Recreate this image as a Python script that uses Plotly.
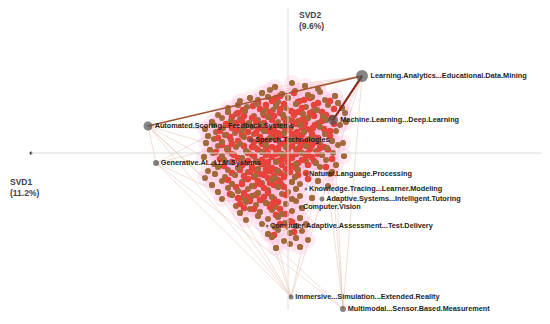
import numpy as np
import plotly.graph_objects as go

################
##### DATA #####
################

# topic nodes (scores x100)
topic_names = ["Learning.Analytics...Educational.Data.Mining",
               "Machine.Learning...Deep.Learning",
               "Automated.Scoring...Feedback.Systems",
               "Generative.AI...LLM.Systems",
               "Speech.Technologies",
               "Natural.Language.Processing",
               "Knowledge.Tracing...Learner.Modeling",
               "Adaptive.Systems...Intelligent.Tutoring",
               "Computer.Vision",
               "Computer.Adaptive.Assessment...Test.Delivery",
               "Immersive...Simulation...Extended.Reality",
               "Multimodal...Sensor.Based.Measurement"]
topic_svd1 = [74, 45, -140, -132, -37, 18, 18, 34, 12, -21, 3, 55]
topic_svd2 = [77, 33, 27, -10, 13, -21, -36, -46, -54, -73, -144, -156]
topic_weight = [12, 10, 9, 6, 5, 3, 3, 5, 3, 3, 5, 6]

# documents (scores x100)
doc_brown = [
    (-13, 66), (4, 70), (17, 67), (30, 64),
    (-26, 60), (-18, 63), (-6, 59), (7, 62), (20, 58), (32, 61), (47, 57),
    (-48, 52), (-38, 55), (-30, 53), (-20, 56), (-10, 51), (0, 55), (12, 52), (24, 56), (37, 53), (50, 50),
    (-60, 45), (-50, 48), (-41, 46), (-32, 49), (-22, 44), (-12, 47), (-2, 45), (8, 49), (18, 46), (29, 43), (40, 48), (54, 45),
    (-70, 38), (-60, 41), (-52, 39), (-43, 42), (-34, 37), (-25, 40), (-15, 43), (-5, 38), (5, 41), (15, 39), (25, 42), (35, 37), (57, 40),
    (-76, 31), (-66, 35), (-57, 32), (-48, 34), (-39, 30), (-30, 33), (-20, 36), (-10, 31), (0, 34), (10, 32), (20, 35), (30, 30), (38, 33), (58, 31),
    (-83, 24), (-74, 28), (-65, 25), (-56, 27), (-46, 23), (-36, 26), (-26, 29), (-17, 24), (-7, 27), (3, 25), (12, 28), (22, 23), (32, 26), (52, 28),
    (-80, 17), (-72, 21), (-63, 18), (-53, 20), (-44, 16), (-34, 19), (-24, 22), (-14, 17), (-4, 20), (6, 18), (16, 21), (26, 16), (37, 19), (48, 22),
    (-82, 10), (-74, 14), (-66, 11), (-57, 13), (-48, 9), (-28, 12), (-18, 15), (-8, 10), (2, 13), (12, 11), (22, 14), (32, 9), (44, 12), (55, 10),
    (-78, 3), (-70, 7), (-61, 4), (-52, 6), (-42, 2), (-32, 5), (-22, 8), (-12, 3), (-2, 6), (8, 4), (18, 7), (28, 2), (39, 5), (50, 8),
    (-84, -4), (-75, 0), (-66, -3), (-56, -1), (-46, -5), (-36, -2), (-26, 1), (-16, -4), (-6, -1), (4, -3), (14, 0), (24, -5), (34, -2), (45, 0), (56, -3),
    (-74, -11), (-64, -7), (-42, -10), (-32, -8), (-22, -12), (-12, -9), (-2, -6), (8, -11), (18, -8), (28, -10), (38, -7), (48, -12),
    (-80, -18), (-70, -14), (-60, -17), (-50, -15), (-40, -19), (-30, -16), (-20, -13), (-10, -18), (0, -15), (10, -17), (32, -14), (44, -19),
    (-83, -25), (-73, -21), (-63, -24), (-53, -22), (-43, -26), (-33, -23), (-23, -20), (-13, -25), (-3, -22), (7, -24), (42, -21),
    (-76, -32), (-66, -28), (-56, -31), (-46, -29), (-36, -33), (-26, -30), (-16, -27), (-6, -32), (4, -29), (12, -31), (30, -28), (40, -33),
    (-70, -39), (-60, -35), (-50, -38), (-40, -36), (-30, -40), (-20, -37), (-10, -34), (0, -39), (8, -36),
    (-66, -46), (-56, -42), (-46, -45), (-36, -43), (-26, -47), (-16, -44), (-6, -41), (4, -46), (12, -43), (24, -45),
    (-52, -53), (-42, -49), (-32, -52), (-22, -50), (-12, -54), (-2, -51), (8, -48),
    (-48, -60), (-38, -56), (-28, -59), (-16, -57), (-6, -61), (4, -58), (14, -55),
    (-42, -67), (-30, -63), (-20, -66), (-10, -64), (2, -68), (12, -65),
    (-26, -71), (-13, -74), (-3, -70), (8, -73), (18, -71),
    (-20, -81), (-10, -77), (2, -80), (14, -78),
    (-16, -84), (-4, -88), (8, -85), (20, -87),
    (-12, -95), (2, -91), (12, -94),
]
doc_red = [
    (-8, 57), (6, 60), (22, 55),
    (-30, 50), (-16, 52), (-4, 49), (10, 51), (26, 48), (42, 52),
    (-45, 43), (-28, 44), (-18, 41), (-8, 44), (3, 42), (14, 45), (34, 41), (46, 44),
    (-56, 36), (-44, 37), (-36, 35), (-14, 37), (-4, 35), (6, 38), (18, 34), (26, 37), (44, 35),
    (-62, 29), (-52, 30), (-42, 28), (-24, 30), (-12, 28), (-2, 31), (8, 29), (17, 30), (27, 28), (46, 29),
    (-68, 22), (-50, 23), (-40, 21), (-30, 24), (-20, 22), (-10, 20), (0, 23), (9, 21), (19, 24), (42, 22),
    (-70, 15), (-58, 16), (-38, 14), (-28, 16), (-20, 13), (-10, 16), (0, 14), (10, 16), (20, 13), (30, 15),
    (-66, 8), (-56, 9), (-44, 7), (-26, 9), (-16, 6), (-6, 9), (4, 7), (14, 10), (24, 8), (36, 6),
    (-72, 1), (-60, 2), (-40, 0), (-30, 3), (-20, 0), (-10, 2), (0, -1), (10, 2), (20, 0), (40, 3),
    (-68, -6), (-50, -5), (-26, -7), (-16, -4), (-6, -6), (4, -5), (14, -7), (24, -4), (44, -6),
    (-64, -13), (-46, -12), (-36, -14), (-26, -11), (-16, -15), (-6, -12), (4, -13), (20, -12), (38, -14),
    (-56, -20), (-38, -19), (-28, -21), (-18, -18), (-8, -20), (2, -19), (18, -20),
    (-60, -27), (-40, -26), (-30, -28), (-20, -25), (-10, -27), (20, -26),
    (-52, -34), (-34, -33), (-24, -35), (-14, -32), (-4, -34),
    (-58, -41), (-44, -40), (-32, -42), (-20, -40), (-2, -42),
    (-38, -48), (-28, -47), (-10, -49),
    (-44, -55), (-34, -56), (-18, -54), (-8, -56),
    (-12, -62), (-2, -61),
    (-8, -71), (4, -69),
    (-14, -82), (6, -79),
]
# denser red core
doc_red_core = [
    (-35, 47), (-22, 48), (-12, 55), (16, 53), (30, 50),
    (-50, 40), (-24, 38), (-8, 40), (10, 41), (22, 40), (38, 38),
    (-46, 32), (-32, 31), (-16, 33), (4, 32), (14, 33), (34, 32),
    (-56, 25), (-44, 26), (-24, 25), (-14, 24), (-4, 26), (14, 25), (25, 25), (36, 24),
    (-62, 18), (-46, 18), (-32, 20), (-16, 19), (-6, 18), (4, 19), (14, 18), (24, 19), (42, 17),
    (-50, 12), (-34, 11), (-24, 12), (-12, 13), (-2, 11), (8, 12), (18, 11), (28, 11),
    (-60, 5), (-36, 6), (-22, 4), (-10, 5), (0, 4), (12, 6), (22, 4), (32, 5),
    (-54, -2), (-34, -3), (-22, -2), (-12, -1), (-2, -3), (8, -1), (18, -3), (30, -1),
    (-56, -9), (-40, -8), (-30, -9), (-20, -9), (-10, -8), (0, -9), (10, -10), (26, -8),
    (-48, -17), (-32, -17), (-22, -16), (-12, -17), (-2, -16), (8, -15),
    (-44, -23), (-34, -24), (-24, -22), (-14, -23), (-4, -24), (10, -22),
    (-46, -31), (-28, -31), (-18, -30), (-8, -29),
    (-50, -45), (-40, -44), (-24, -44), (-14, -46),
    (-48, -51), (-16, -51),
]

# links between topics (strong ones first)
strong_links = [("Learning.Analytics...Educational.Data.Mining", "Automated.Scoring...Feedback.Systems", "#a0522d", 1.6),
                ("Learning.Analytics...Educational.Data.Mining", "Machine.Learning...Deep.Learning", "#8b2318", 2.2)]
faint_links = [("Learning.Analytics...Educational.Data.Mining", "Immersive...Simulation...Extended.Reality"),
               ("Learning.Analytics...Educational.Data.Mining", "Multimodal...Sensor.Based.Measurement"),
               ("Machine.Learning...Deep.Learning", "Multimodal...Sensor.Based.Measurement"),
               ("Automated.Scoring...Feedback.Systems", "Generative.AI...LLM.Systems"),
               ("Automated.Scoring...Feedback.Systems", "Immersive...Simulation...Extended.Reality"),
               ("Automated.Scoring...Feedback.Systems", "Multimodal...Sensor.Based.Measurement"),
               ("Generative.AI...LLM.Systems", "Immersive...Simulation...Extended.Reality"),
               ("Generative.AI...LLM.Systems", "Multimodal...Sensor.Based.Measurement"),
               ("Speech.Technologies", "Immersive...Simulation...Extended.Reality"),
               ("Computer.Adaptive.Assessment...Test.Delivery", "Immersive...Simulation...Extended.Reality")]
# links from topics to single documents
doc_links = [("Learning.Analytics...Educational.Data.Mining", (-13, 66)),
             ("Learning.Analytics...Educational.Data.Mining", (-26, 60)),
             ("Learning.Analytics...Educational.Data.Mining", (-48, 52)),
             ("Learning.Analytics...Educational.Data.Mining", (-70, 38)),
             ("Learning.Analytics...Educational.Data.Mining", (-12, -95)),
             ("Learning.Analytics...Educational.Data.Mining", (2, -91)),
             ("Automated.Scoring...Feedback.Systems", (-83, 24)),
             ("Automated.Scoring...Feedback.Systems", (-82, 10)),
             ("Automated.Scoring...Feedback.Systems", (-84, -4)),
             ("Automated.Scoring...Feedback.Systems", (-76, -32)),
             ("Generative.AI...LLM.Systems", (-80, 17)),
             ("Generative.AI...LLM.Systems", (-78, 3)),
             ("Generative.AI...LLM.Systems", (-70, -39)),
             ("Immersive...Simulation...Extended.Reality", (-66, -46)),
             ("Immersive...Simulation...Extended.Reality", (-52, -53)),
             ("Immersive...Simulation...Extended.Reality", (30, -28)),
             ("Multimodal...Sensor.Based.Measurement", (40, -33)),
             ("Multimodal...Sensor.Based.Measurement", (44, -19))]

#########################
##### MAKE THE PLOT #####
#########################

tx = dict(zip(topic_names, np.array(topic_svd1) / 100))
ty = dict(zip(topic_names, np.array(topic_svd2) / 100))
brown = np.array(doc_brown) / 100
red = np.array(doc_red + doc_red_core) / 100

fig = go.Figure()

# axis lines through the origin
fig.add_shape(type="line", x0=-2.57, x1=2.57, y0=0, y1=0, line=dict(color="#dcdcdc", width=1))
fig.add_shape(type="line", x0=0, x1=0, y0=1.53, y1=-1.57, line=dict(color="#ead9d6", width=1))
fig.add_trace(go.Scatter(x=[-2.57, 2.57], y=[0, 0], mode="markers",
                         marker=dict(size=3, color="#333"), hoverinfo="skip"))

# faint links
xs, ys = [], []
for a, b in faint_links:
    xs += [tx[a], tx[b], None]
    ys += [ty[a], ty[b], None]
for a, (dx, dy) in doc_links:
    xs += [tx[a], dx / 100, None]
    ys += [ty[a], dy / 100, None]
fig.add_trace(go.Scatter(x=xs, y=ys, mode="lines", hoverinfo="skip",
                         line=dict(color="rgba(214,165,140,0.4)", width=0.9)))

# pink haze behind the documents
alld = np.vstack([brown, red])
fig.add_trace(go.Scatter(x=alld[:, 0], y=alld[:, 1], mode="markers", hoverinfo="skip",
                         marker=dict(size=16, color="rgba(255,175,215,0.22)", line=dict(width=0))))

# documents
fig.add_trace(go.Scatter(x=brown[:, 0], y=brown[:, 1], mode="markers",
                         marker=dict(size=6, color="#a3693a", line=dict(width=0))))
fig.add_trace(go.Scatter(x=red[:, 0], y=red[:, 1], mode="markers",
                         marker=dict(size=6.5, color="#e8433a", line=dict(width=0))))
# part of the brown ones sit on top of the red
fig.add_trace(go.Scatter(x=brown[::2, 0], y=brown[::2, 1], mode="markers",
                         marker=dict(size=6, color="#a3693a", line=dict(width=0))))

# strong links
for a, b, c, w in strong_links:
    fig.add_trace(go.Scatter(x=[tx[a], tx[b]], y=[ty[a], ty[b]], mode="lines",
                             hoverinfo="skip", line=dict(color=c, width=w)))

# topics
fig.add_trace(go.Scatter(x=np.array(topic_svd1) / 100, y=np.array(topic_svd2) / 100,
                         mode="markers+text", text=topic_names, textposition="middle right",
                         marker=dict(size=topic_weight, color="#505050", line=dict(width=0)),
                         textfont=dict(family="Arial", size=7.3, color="#1e1e1e", weight="bold")))

# axis names
fig.add_annotation(x=0.09, y=1.45, xref="x", yref="y", xanchor="left", yanchor="top",
                   text="SVD2<br>(9.6%)", showarrow=False, align="left",
                   font=dict(family="Arial", size=8.5, color="#444", weight="bold"))
fig.add_annotation(x=0, y=-0.22, xref="paper", yref="y", xanchor="left", yanchor="top",
                   text="SVD1<br>(11.2%)", showarrow=False, align="left",
                   font=dict(family="Arial", size=8.5, color="#444", weight="bold"))

# page has an 8px body margin, so the figure is 542x316
fig.update_layout(width=542, height=316, margin=dict(l=0, r=0, t=0, b=0),
                  plot_bgcolor="white", paper_bgcolor="white", showlegend=False)
fig.update_xaxes(range=[-2.80, 2.62], visible=False)
fig.update_yaxes(range=[-1.71, 1.45], visible=False)
fig.write_html("out.html")
